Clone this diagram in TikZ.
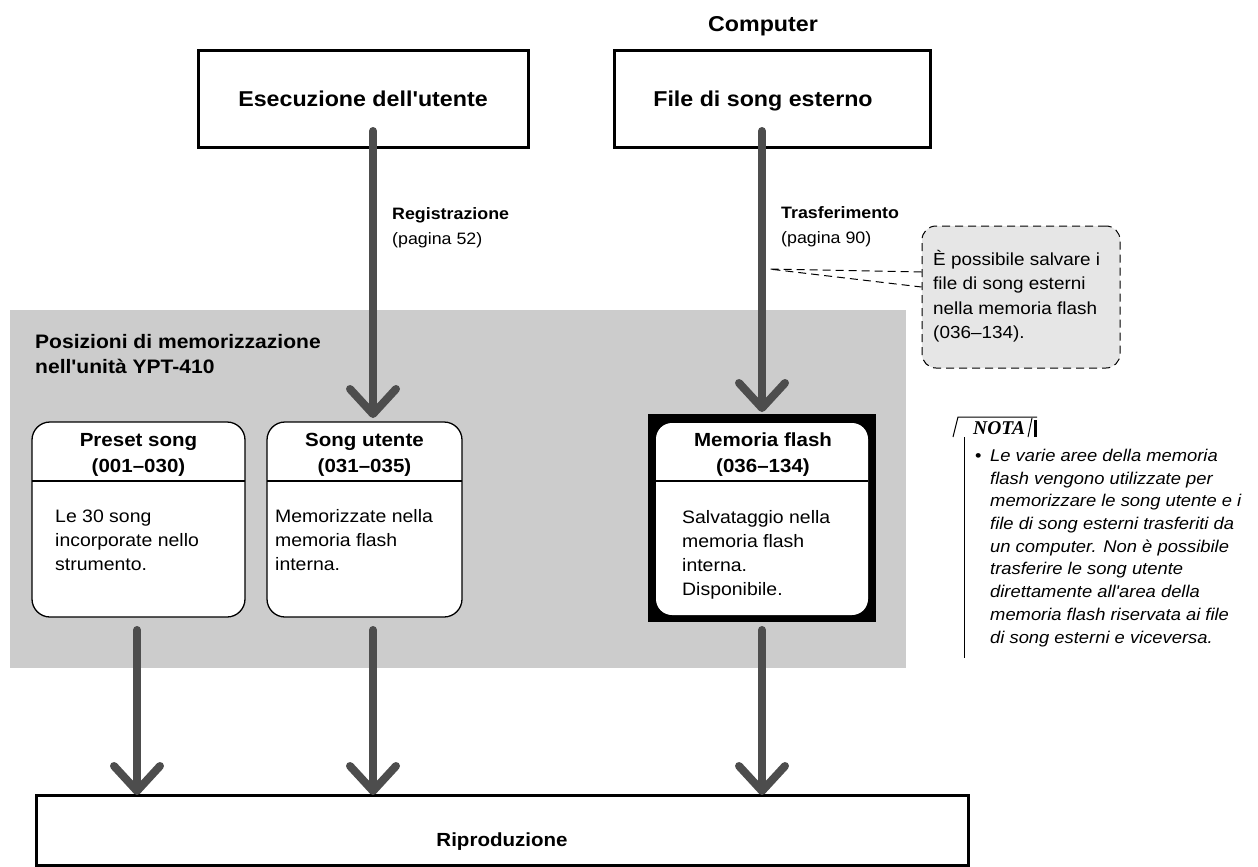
\documentclass[tikz,border=0pt]{standalone}
\usepackage{fontspec}
\setmainfont{Liberation Sans}[FakeStretch=1.08, Ligatures=TeXOff]
\newfontfamily\notafont{Liberation Serif}
\usetikzlibrary{arrows.meta}
\definecolor{arrowgray}{HTML}{4D4D4D}
\definecolor{regiongray}{HTML}{CCCCCC}
\definecolor{calloutgray}{HTML}{E6E6E6}
\newcommand\myfs[1]{\fontsize{#1}{#1}\selectfont}
\begin{document}
\begin{tikzpicture}[x=1pt,y=-1pt,
  bigarrow/.style={draw=arrowgray, line width=8pt, line cap=round,
    -{Straight Barb[length=25pt,width=46pt,round]}},
  topbox/.style={draw, line width=3pt, inner sep=0pt, outer sep=0pt},
  card/.style={draw, line width=1.3pt, fill=white, rounded corners=18pt, inner sep=0pt, outer sep=0pt},
  ttl/.style={anchor=base, inner sep=0pt, font=\bfseries\myfs{21.5}},
  hdr/.style={anchor=base, inner sep=0pt, font=\bfseries\myfs{19}},
  body/.style={anchor=base west, inner sep=0pt, font=\myfs{18}},
  lbl/.style={anchor=base west, inner sep=0pt, font=\bfseries\myfs{16.5}},
  lblr/.style={anchor=base west, inner sep=0pt, font=\myfs{16.5}},
  calltxt/.style={anchor=base west, inner sep=0pt, font=\myfs{17.5}},
  notetxt/.style={anchor=base west, inner sep=0pt, font=\itshape\myfs{17}},
  dsh/.style={dash pattern=on 8pt off 5pt, line width=1pt},
]
\useasboundingbox (0,0) rectangle (1258,867);

% gray region
\fill[regiongray] (10,310) rectangle (906,668);

% top boxes
\node[topbox, minimum width=330pt, minimum height=96pt] (esec) at (363,99) {};
\node[topbox, minimum width=316pt, minimum height=96pt] (file) at (772,99) {};
\node[ttl] (comptxt) at (763,32) {Computer};
\node[ttl] (esectxt) at (363,106) {Esecuzione dell'utente};
\node[ttl] (filetxt) at (763,106) {File di song esterno};

% labels
\node[lbl] (regtxt) at (392,219) {Registrazione};
\node[lblr] (regpg) at (392,244) {(pagina 52)};
\node[lbl] (trtxt) at (781,218) {Trasferimento};
\node[lblr] (trpg) at (781,243) {(pagina 90)};

% region title
\node[anchor=base west, inner sep=0pt, font=\bfseries\myfs{19.5}] (pos1) at (35,348) {Posizioni di memorizzazione};
\node[anchor=base west, inner sep=0pt, font=\bfseries\myfs{19.5}] (pos2) at (35,373) {nell'unità YPT-410};

% callout
\node[draw, dsh, fill=calloutgray, rounded corners=14pt,
  minimum width=198pt, minimum height=142pt, inner sep=0pt] (call) at (1021,297) {};
\coordinate (calltip) at (769,269);
\draw[dsh] (call.west |- 0,272) -- (calltip) -- (call.west |- 0,287);
\node[calltxt] (c1) at (933,265) {È possibile salvare i};
\node[calltxt] (c2) at (933,289) {file di song esterni};
\node[calltxt] (c3) at (933,314) {nella memoria flash};
\node[calltxt] (c4) at (933,338) {(036–134).};

% cards
\node[card, minimum width=213pt, minimum height=195pt] (preset) at (138.5,519.5) {};
\draw[line width=1.3pt] (preset.west |- 0,481) -- (preset.east |- 0,481);
\node[hdr] (p1) at (138.5,446) {Preset song};
\node[hdr] (p2) at (138.5,472) {(001–030)};
\node[body] (p3) at (55,522) {Le 30 song};
\node[body] (p4) at (55,546) {incorporate nello};
\node[body] (p5) at (55,570) {strumento.};

\node[card, minimum width=195pt, minimum height=195pt] (user) at (364.5,519.5) {};
\draw[line width=1.3pt] (user.west |- 0,481) -- (user.east |- 0,481);
\node[hdr] (u1) at (364.5,446) {Song utente};
\node[hdr] (u2) at (364.5,472) {(031–035)};
\node[body] (u3) at (275,522) {Memorizzate nella};
\node[body] (u4) at (275,546) {memoria flash};
\node[body] (u5) at (275,570) {interna.};

\node[fill=black, minimum width=228pt, minimum height=208pt, inner sep=0pt, outer sep=0pt] (flashbg) at (762,518) {};
\node[fill=white, rounded corners=16pt, minimum width=212pt, minimum height=192pt, inner sep=0pt, outer sep=0pt] (flash) at (762,519) {};
\draw[line width=1.3pt] (flash.west |- 0,481) -- (flash.east |- 0,481);
\node[hdr] (f1) at (763,446) {Memoria flash};
\node[hdr] (f2) at (763,472) {(036–134)};
\node[body] (f3) at (682,523) {Salvataggio nella};
\node[body] (f4) at (682,547) {memoria flash};
\node[body] (f5) at (682,571) {interna.};
\node[body] (f6) at (682,595) {Disponibile.};

% bottom box
\node[topbox, minimum width=932pt, minimum height=70pt] (play) at (502,830) {};
\node[ttl, font=\bfseries\myfs{19}] (playtxt) at (502,846) {Riproduzione};

% arrows
\coordinate (a1s) at (373,131);
\coordinate (a1e) at (373,418);
\coordinate (a2s) at (762,131);
\coordinate (a2e) at (762,412);
\coordinate (b1s) at (137,630);
\coordinate (b2s) at (373,630);
\coordinate (b3s) at (762,630);
\draw[bigarrow] (a1s) -- (a1e);
\draw[bigarrow] (a2s) -- (a2e);
\draw[bigarrow] (b1s) -- (b1s |- play.north);
\draw[bigarrow] (b2s) -- (b2s |- play.north);
\draw[bigarrow] (b3s) -- (b3s |- play.north);

% NOTA
\draw[line width=1pt] (953,437) -- (958,417) -- (1037,417);
\draw[line width=1pt] (1028,437) -- (1032,418);
\fill (1033.5,420) rectangle (1037,437);
\draw[line width=1pt] (964,437) -- (964,658);
\node[anchor=base west, inner sep=0pt, font=\notafont\bfseries\itshape\myfs{19.5}] (notah) at (973,434) {NOTA};
\node[anchor=base west, inner sep=0pt, font=\myfs{17}] (bullet) at (975,461.4) {•};
\node[notetxt] (n1) at (990,461.4) {Le varie aree della memoria};
\node[notetxt] (n2) at (990,484.1) {flash vengono utilizzate per};
\node[notetxt] (n3) at (990,506.8) {memorizzare le song utente e i};
\node[notetxt] (n4) at (990,529.5) {file di song esterni trasferiti da};
\node[notetxt] (n5) at (990,552.2) {un computer. Non è possibile};
\node[notetxt] (n6) at (990,574.9) {trasferire le song utente};
\node[notetxt] (n7) at (990,597.6) {direttamente all'area della};
\node[notetxt] (n8) at (990,620.3) {memoria flash riservata ai file};
\node[notetxt] (n9) at (990,643) {di song esterni e viceversa.};
\end{tikzpicture}
\end{document}
